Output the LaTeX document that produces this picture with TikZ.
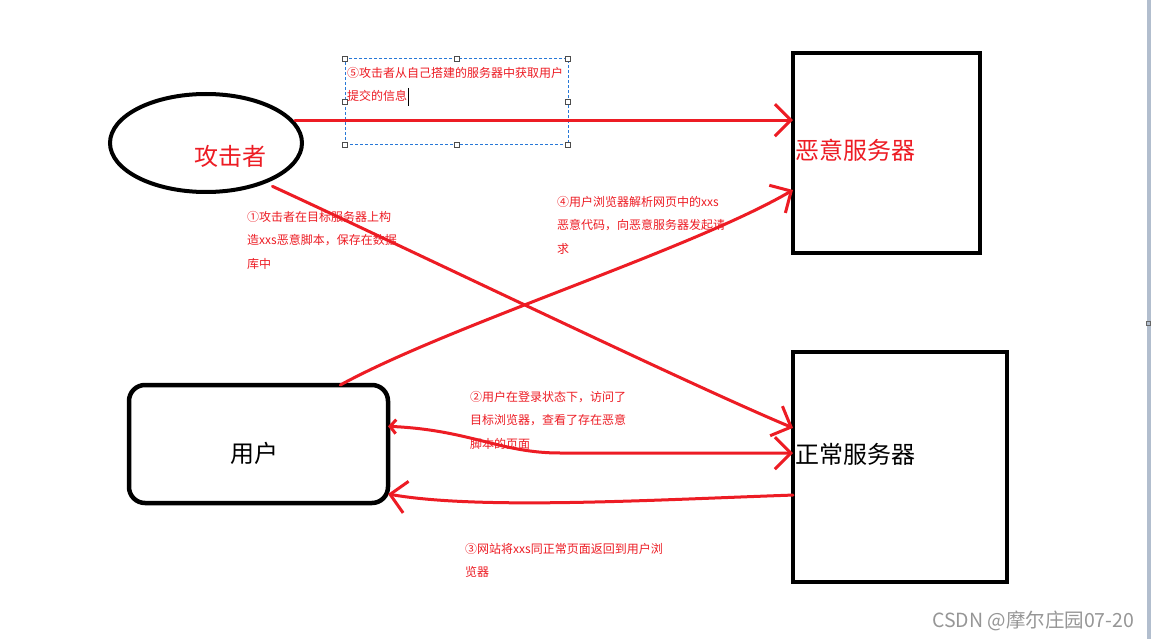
\documentclass[tikz,border=0pt]{standalone}
\usepackage{fontspec}
\setmainfont{Noto Sans CJK SC}
\usetikzlibrary{shapes.geometric,arrows.meta,calc}
\definecolor{pred}{RGB}{237,28,36}
\definecolor{selblue}{RGB}{40,120,215}
\definecolor{wmgray}{RGB}{150,150,150}
\definecolor{edgegray}{RGB}{178,190,206}
\begin{document}
\begin{tikzpicture}[x=1pt,y=-1pt,
  box/.style={draw=black,line width=4.5pt,inner sep=0pt,outer sep=0pt},
  big/.style={font=\fontsize{24}{28}\selectfont,inner sep=0pt,anchor=base west},
  small/.style={font=\fontsize{12}{23.6}\selectfont,text=pred,inner sep=0pt,anchor=north west,align=left},
  redline/.style={draw=pred,line width=3pt,line cap=round,line join=round},
  barb/.style={-{Straight Barb[length=16pt,width=32pt]}},
  handle/.style={draw=black!70,fill=white,line width=0.8pt,minimum size=5pt,inner sep=0pt,outer sep=0pt}
]
\useasboundingbox (0,0) rectangle (1151,639);
\fill[white] (0,0) rectangle (1151,639);
\fill[edgegray] (1147,0) rectangle (1151,639);
\draw[black!60,line width=0.8pt] (1146,321) rectangle (1150,325);

% shapes
\node[ellipse,draw=black,line width=4pt,minimum width=192pt,minimum height=98pt,inner sep=0pt,outer sep=0pt] (att) at (206,143) {};
\node[box,minimum width=187pt,minimum height=200pt] (mal) at (886.5,153) {};
\node[box,minimum width=214pt,minimum height=230pt] (ns) at (900,467) {};
\node[box,rounded corners=16pt,minimum width=259pt,minimum height=118pt] (user) at (258.5,444) {};

% main labels
\node[big,text=pred] (attl) at (194,166) {攻击者};
\node[big,text=pred] (mall) at (795,160) {恶意服务器};
\node[big,text=black] (nsl) at (795,463) {正常服务器};
\node[big,text=black] (userl) at (230,462) {用户};

% selection box with handles
\node[draw=selblue,dash pattern=on 3pt off 2pt,line width=1pt,minimum width=223pt,minimum height=86pt,inner sep=0pt,outer sep=0pt] (sel) at (456.5,102) {};
\node[handle] (h1) at (sel.north west) {};
\node[handle] (h2) at (sel.north) {};
\node[handle] (h3) at (sel.north east) {};
\node[handle] (h4) at (sel.west) {};
\node[handle] (h5) at (sel.east) {};
\node[handle] (h6) at (sel.south west) {};
\node[handle] (h7) at (sel.south) {};
\node[handle] (h8) at (sel.south east) {};
\node[small] (l5) at (347,67) {⑤攻击者从自己搭建的服务器中获取用户\\提交的信息};
\draw[black,line width=1pt] (408,88) -- (408,106);

% step labels
\node[small] (l1) at (247,211) {①攻击者在目标服务器上构\\造xxs恶意脚本，保存在数据\\库中};
\node[small] (l4) at (557,196) {④用户浏览器解析网页中的xxs\\恶意代码，向恶意服务器发起请\\求};
\node[small] (l2) at (470,391) {②用户在登录状态下，访问了\\目标浏览器，查看了存在恶意\\脚本的页面};
\node[small] (l3) at (465,543) {③网站将xxs同正常页面返回到用户浏\\览器};

% connectors
\draw[redline,barb] ([xshift=4pt]att.15) -- (att.15 -| mal.west);
\draw[redline,barb] ([yshift=-8pt]att.-28) .. controls (400,245) and (690,385) .. ($(ns.north west)!0.33!(ns.south west)$);
\draw[redline,barb] ($(user.north west)!0.816!(user.north east)$) .. controls (450,325) and (690,250) .. ($(mal.north west)!0.685!(mal.south west)$);
\draw[redline,{Straight Barb[length=6pt,width=14pt]}-{Straight Barb[length=16pt,width=32pt]}] ($(user.north east)!0.35!(user.south east)$) .. controls (470,430) and (500,453) .. (560,453) -- ($(ns.north west)!0.44!(ns.south west)$);
\draw[redline,barb] ($(ns.north west)!0.622!(ns.south west)$) .. controls (650,500) and (480,510) .. ($(user.north east)!0.924!(user.south east)$);

% watermark
\node[font=\fontsize{19.5}{22}\selectfont,text=wmgray,anchor=base west,inner sep=0pt] (wm) at (932,627) {CSDN @摩尔庄园07-20};
\end{tikzpicture}
\end{document}
